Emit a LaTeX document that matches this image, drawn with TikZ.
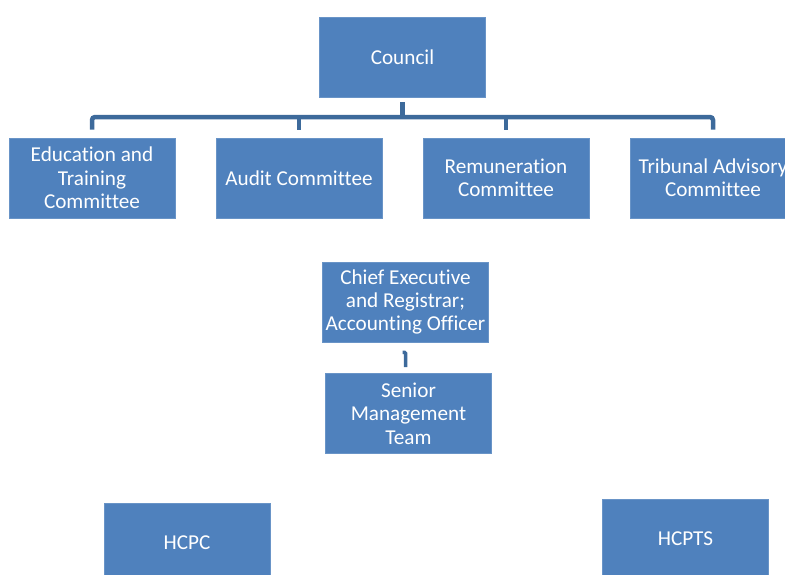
\documentclass[tikz,border=0pt]{standalone}
\usepackage{fontspec}
\setmainfont{Carlito}[Ligatures=NoCommon]
\definecolor{boxblue}{HTML}{4F81BD}
\definecolor{lineblue}{HTML}{3D6A9B}
\begin{document}
\begin{tikzpicture}[x=1pt,y=-1pt,
  box/.style={draw=boxblue!85!white,line width=0.6pt,fill=boxblue,text=white,align=center,
    minimum width=166pt,minimum height=80pt,inner sep=0pt,
    font=\fontsize{21.2}{23.3}\selectfont},
  conn/.style={draw=lineblue,line width=4.5pt,rounded corners=3pt}]
\useasboundingbox (0,0) rectangle (785,574);
\clip (0,0) rectangle (785,574);
\node[box] (council) at (402.5,57) {Council};
\node[box] (edu) at (92,178) {Education and\\Training\\Committee};
\node[box] (audit) at (299,178) {Audit Committee};
\node[box] (remun) at (506,178) {Remuneration\\Committee};
\node[box] (trib) at (713,178) {Tribunal Advisory\\Committee};
\node[box] (ceo) at (405.5,302) {Chief Executive\\and Registrar;\\Accounting Officer};
\node[box] (smt) at (408.5,413.5) {Senior\\Management\\Team};
\node[box] (hcpc) at (187,543) {HCPC};
\node[box] (hcpts) at (685.5,539) {HCPTS};
\coordinate (bus) at (402,117);
\draw[conn] ([yshift=-5pt]council.south) -- (council.south |- bus);
\draw[conn] ([yshift=8pt]edu.north) |- (bus) -| ([yshift=8pt]trib.north);
\draw[conn] ([yshift=8pt]audit.north) -- (audit.north |- bus);
\draw[conn] ([yshift=8pt]remun.north) -- (remun.north |- bus);
\draw[draw=lineblue,line width=3.5pt,rounded corners=1pt] ([xshift=-3pt,yshift=-10pt]ceo.south) -- ([yshift=-10pt]ceo.south) -- ([yshift=6pt]smt.north -| ceo.south);
\end{tikzpicture}
\end{document}
